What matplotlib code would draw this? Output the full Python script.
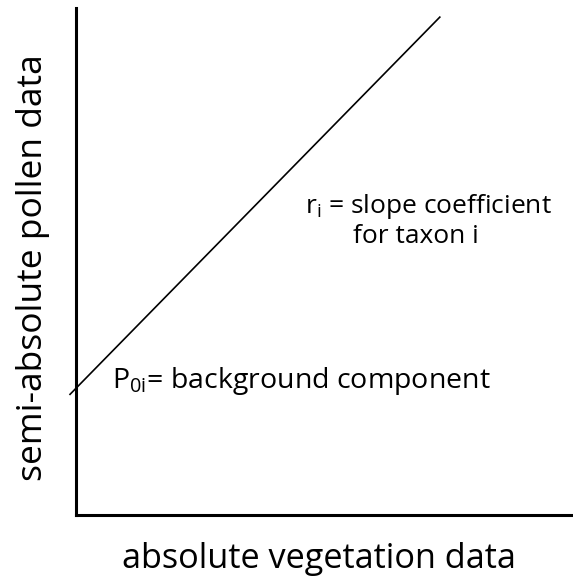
import matplotlib.pyplot as plt
import numpy as np

plt.rcParams['font.family'] = ['Open Sans', 'DejaVu Sans']

# conceptual model: pollen = P0i + ri * vegetation
intercept = 0.25
slope = 1.0
x_range = [-0.012, 0.732]

x_label = 'absolute vegetation data'
y_label = 'semi-absolute pollen data'

fig = plt.figure(figsize=(5.73, 5.81), dpi=100)
ax = fig.add_axes([76 / 573, 66 / 581, 497 / 573, 507 / 581])

x = np.array(x_range)
ax.plot(x, intercept + slope * x, color='black', lw=1.2, clip_on=False)

ax.set_xlim(0, 1)
ax.set_ylim(0, 1)
for side in ['top', 'right']:
    ax.spines[side].set_visible(False)
ax.spines['left'].set_linewidth(2.2)
ax.spines['bottom'].set_linewidth(2.2)
ax.set_xticks([])
ax.set_yticks([])

ax.set_xlabel(x_label, fontsize=24.7, va='baseline')
ax.xaxis.set_label_coords(0.488, -0.1045)
ax.set_ylabel(y_label, fontsize=25.5, va='baseline')
ax.yaxis.set_label_coords(-0.0684, 0.487)

ax.text(0.461, 0.596, r'r$_\mathregular{i}$ = slope coefficient', fontsize=19,
        ha='left', va='baseline')
ax.text(0.684, 0.536, 'for taxon i', fontsize=19, ha='center', va='baseline')
ax.text(0.072, 0.25, r'P$_\mathregular{0i}$= background component', fontsize=20.5,
        ha='left', va='baseline')

fig.savefig('out.png', dpi=100)
